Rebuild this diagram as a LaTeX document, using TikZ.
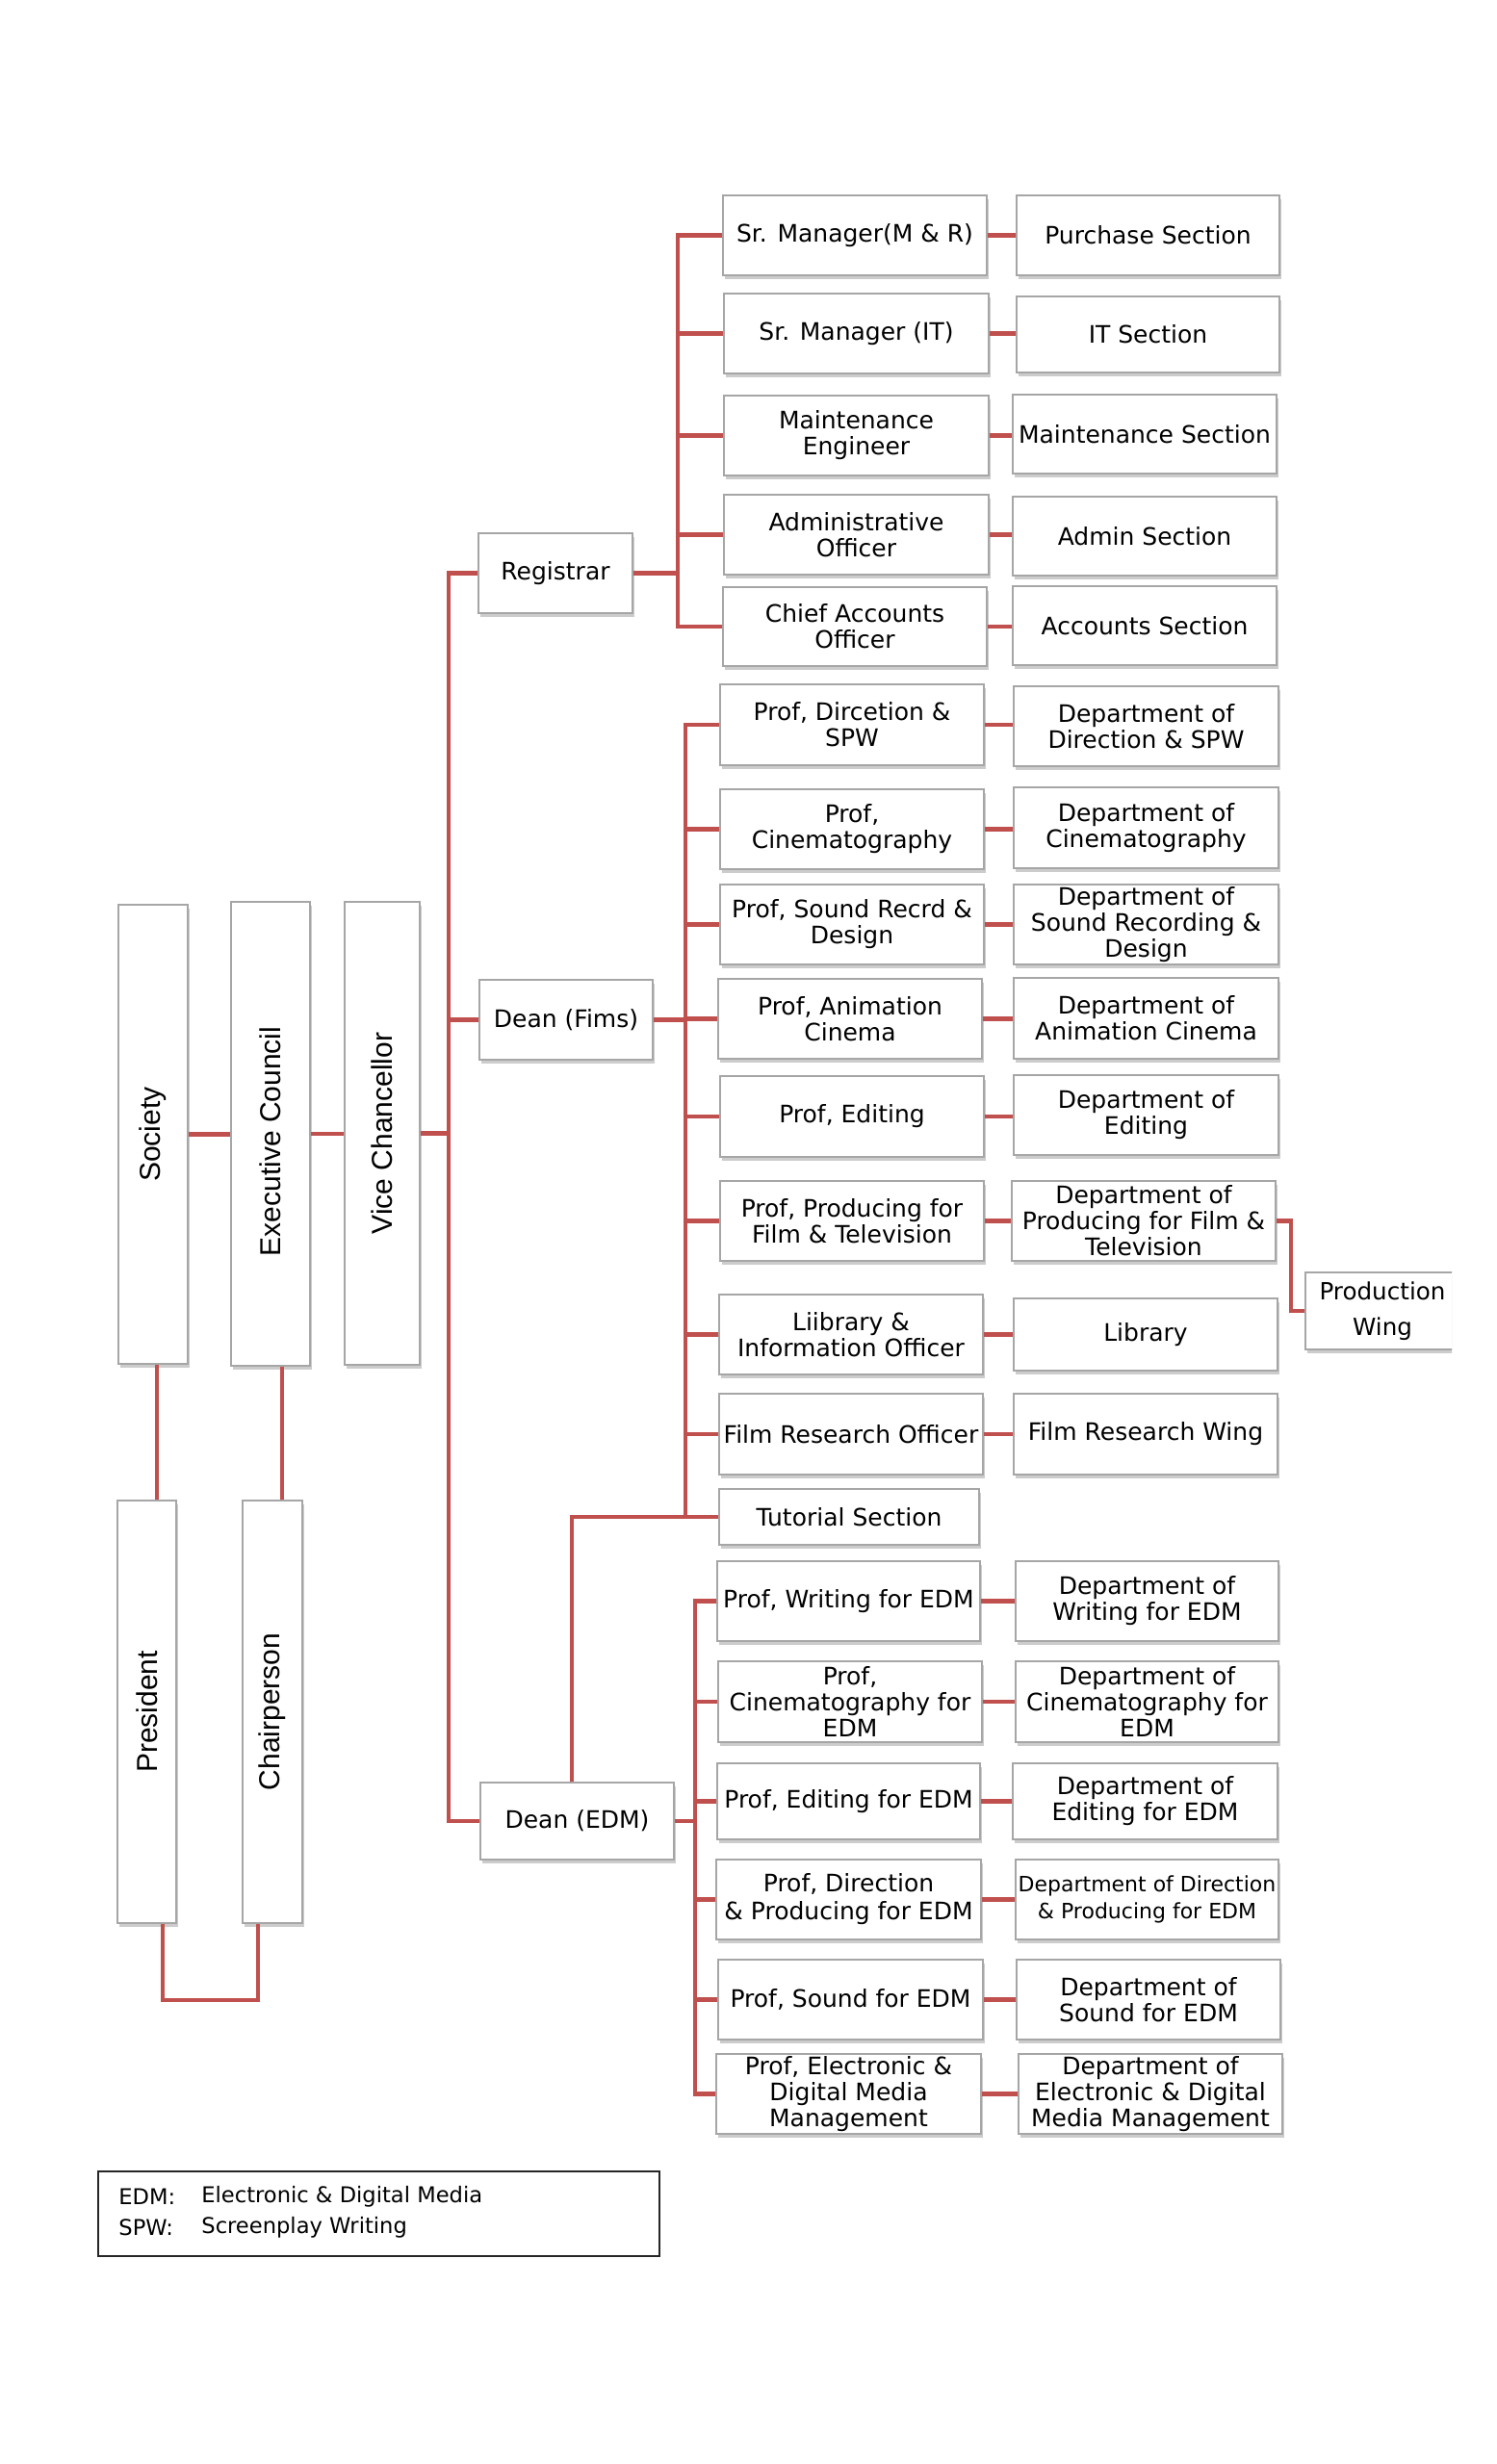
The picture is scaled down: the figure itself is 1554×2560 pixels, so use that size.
\documentclass[tikz,border=0pt]{standalone}
\usepackage{fontspec}
\setmainfont{DejaVu Sans}
\newfontfamily\arialf{Liberation Sans}
\usetikzlibrary{shadows}
\definecolor{linkred}{HTML}{C0504D}
\definecolor{boxgray}{HTML}{A6A6A6}
\tikzset{
  box/.style={draw=boxgray, line width=0.6pt, fill=white, inner sep=0pt, align=center,
    font=\fontsize{12.5}{13.5}\selectfont,
    drop shadow={shadow xshift=1.2pt, shadow yshift=-1.8pt, fill=black!50, opacity=0.4}},
  legbox/.style={draw=black!85, line width=0.8pt, fill=white, inner sep=0pt},
  legtext/.style={anchor=west, inner sep=0pt, font=\fontsize{11.3}{13}\selectfont},
  conn/.style={draw=linkred, line width=2.2pt},
  vlabel/.style={rotate=90, inner sep=0pt, font=\arialf\fontsize{15}{16}\selectfont},
}
\newcommand\bx[7][]{\node[box,#1,minimum width={(#4-#2)*0.5pt},minimum height={(#5-#3)*0.5pt}] (#6) at ({(#2+#4)/2},{(#3+#5)/2}) {#7};}
\begin{document}
\begin{tikzpicture}[x=0.5pt,y=-0.5pt]
\useasboundingbox (0,0) rectangle (1554,2560);
\fill[white] (0,0) rectangle (1554,2560);

% left column
\bx{123}{940}{195}{1417}{soc}{}
\bx{240}{937}{322}{1419}{ec}{}
\bx{358}{937}{436}{1418}{vc}{}
\bx{122}{1559}{183}{1998}{pres}{}
\bx{252}{1559}{314}{1998}{chair}{}
\node[vlabel] (socl) at (soc) {Society};
\node[vlabel] (ecl) at ([yshift=-4pt]ec.center) {Executive Council};
\node[vlabel] (vcl) at (vc) {Vice Chancellor};
\node[vlabel] (presl) at (pres) {President};
\node[vlabel] (chairl) at (chair) {Chairperson};

% deans
\bx{497}{554}{657}{637}{reg}{Registrar}
\bx{498}{1018}{678}{1101}{deanF}{Dean (Fims)}
\bx{499}{1852}{700}{1932}{deanE}{Dean (EDM)}

% registrar branch
\bx{751}{203}{1025}{286}{m1}{Sr. Manager(M \& R)}
\bx{1056}{203}{1329}{286}{n1}{Purchase Section}
\bx{752}{305}{1027}{388}{m2}{Sr. Manager (IT)}
\bx{1056}{308}{1329}{387}{n2}{IT Section}
\bx{752}{411}{1027}{494}{m3}{Maintenance\\Engineer}
\bx{1052}{410}{1326}{492}{n3}{Maintenance Section}
\bx{752}{514}{1027}{597}{m4}{Administrative\\Officer}
\bx{1052}{516}{1326}{598}{n4}{Admin Section}
\bx{751}{610}{1025}{692}{m5}{Chief Accounts\\Officer}
\bx{1052}{609}{1326}{691}{n5}{Accounts Section}

% fims branch
\bx{748}{711}{1022}{795}{f1}{Prof, Dircetion \&\\SPW}
\bx{1053}{713}{1328}{796}{g1}{Department of\\Direction \& SPW}
\bx{748}{820}{1022}{903}{f2}{Prof,\\Cinematography}
\bx{1053}{818}{1328}{902}{g2}{Department of\\Cinematography}
\bx{748}{919}{1022}{1002}{f3}{Prof, Sound Recrd \&\\Design}
\bx{1053}{919}{1328}{1002}{g3}{Department of\\Sound Recording \&\\Design}
\bx{746}{1017}{1020}{1100}{f4}{Prof, Animation\\Cinema}
\bx{1053}{1016}{1328}{1100}{g4}{Department of\\Animation Cinema}
\bx{748}{1118}{1022}{1202}{f5}{Prof, Editing}
\bx{1053}{1117}{1328}{1200}{g5}{Department of\\Editing}
\bx{748}{1227}{1022}{1310}{f6}{Prof, Producing for\\Film \& Television}
\bx{1051}{1227}{1325}{1310}{g6}{Department of\\Producing for Film \&\\Television}
\bx{747}{1345}{1021}{1428}{f7}{Liibrary \&\\Information Officer}
\bx{1053}{1349}{1327}{1424}{g7}{Library}
\bx{747}{1448}{1021}{1532}{f8}{Film Research Officer}
\bx{1053}{1448}{1327}{1532}{g8}{Film Research Wing}
\bx{747}{1547}{1017}{1605}{tut}{Tutorial Section}
\begin{scope}
\clip (1300,1290) rectangle (1508,1440);
\bx[font=\fontsize{12.3}{18.5}\selectfont]{1356}{1322}{1516}{1402}{pw}{Production\\Wing}
\end{scope}

% EDM branch
\bx{745}{1622}{1018}{1705}{e1}{Prof, Writing for EDM}
\bx{1055}{1622}{1328}{1705}{h1}{Department of\\Writing for EDM}
\bx{746}{1726}{1020}{1810}{e2}{Prof,\\Cinematography for\\EDM}
\bx{1055}{1726}{1328}{1810}{h2}{Department of\\Cinematography for\\EDM}
\bx{745}{1832}{1018}{1911}{e3}{Prof, Editing for EDM}
\bx{1052}{1832}{1327}{1911}{h3}{Department of\\Editing for EDM}
\bx[font=\fontsize{12.5}{14.5}\selectfont]{744}{1932}{1019}{2015}{e4}{Prof, Direction\\\& Producing for EDM}
\bx[font=\fontsize{11}{14}\selectfont]{1055}{1932}{1328}{2015}{h4}{Department of Direction\\\& Producing for EDM}
\bx{746}{2036}{1021}{2119}{e5}{Prof, Sound for EDM}
\bx{1056}{2036}{1330}{2119}{h5}{Department of\\Sound for EDM}
\bx{744}{2134}{1019}{2217}{e6}{Prof, Electronic \&\\Digital Media\\Management}
\bx{1058}{2134}{1332}{2217}{h6}{Department of\\Electronic \& Digital\\Media Management}

% legend
\node[legbox, minimum width=291.5pt, minimum height=44pt] (leg) at (393.5,2300) {};
\node[legtext] (l1a) at (123,2282) {EDM:};
\node[legtext] (l1b) at (209,2282) {Electronic \& Digital Media};
\node[legtext] (l2a) at (123,2314) {SPW:};
\node[legtext] (l2b) at (209,2314) {Screenplay Writing};

% coordinates for trunks
\coordinate (mt) at (466,0);
\coordinate (rt) at (704,0);
\coordinate (ft) at (712,0);
\coordinate (et) at (722,0);
\coordinate (pwx) at (1341,0);
\coordinate (ex) at (594,0);
\coordinate (sx) at (163,0);
\coordinate (cx) at (293,0);
\coordinate (bl) at (169,2078);
\coordinate (br) at (268,2078);

% left connectors
\draw[conn] (soc.east) -- (soc.east -| ec.west);
\draw[conn] (ec.east) -- (ec.east -| vc.west);
\draw[conn] (vc.east) -- (mt |- vc.east);
\draw[conn] (sx |- soc.south) -- (sx |- pres.north);
\draw[conn] (cx |- ec.south) -- (cx |- chair.north);
\draw[conn] (bl |- pres.south) -- (bl) -- (br) -- (br |- chair.south);

% main trunk
\draw[conn] (reg.west) -| (mt |- deanE.west) -- (deanE.west);
\draw[conn] (mt |- deanF.west) -- (deanF.west);

% registrar
\draw[conn] (m1.west) -| (rt |- m5.west) -- (m5.west);
\foreach \n in {m2,m3,m4} \draw[conn] (rt |- \n.west) -- (\n.west);
\draw[conn] (reg.east) -- (rt |- reg.east);
\foreach \a/\b in {m1/n1,m2/n2,m3/n3,m4/n4,m5/n5} \draw[conn] (\a.east) -- (\a.east -| \b.west);

% fims
\draw[conn] (f1.west) -| (ft |- tut.west) -- (tut.west);
\foreach \n in {f2,f3,f4,f5,f6,f7,f8} \draw[conn] (ft |- \n.west) -- (\n.west);
\draw[conn] (deanF.east) -- (ft |- deanF.east);
\foreach \a/\b in {f1/g1,f2/g2,f3/g3,f4/g4,f5/g5,f6/g6,f7/g7,f8/g8} \draw[conn] (\a.east) -- (\a.east -| \b.west);
\draw[conn] (g6.east) -| (pwx |- pw.west) -- (pw.west);
\draw[conn] (ex |- deanE.north) |- (ft |- tut.west);

% EDM
\draw[conn] (e1.west) -| (et |- e6.west) -- (e6.west);
\foreach \n in {e2,e3,e4,e5} \draw[conn] (et |- \n.west) -- (\n.west);
\draw[conn] (deanE.east) -- (et |- deanE.east);
\foreach \a/\b in {e1/h1,e2/h2,e3/h3,e4/h4,e5/h5,e6/h6} \draw[conn] (\a.east) -- (\a.east -| \b.west);
\end{tikzpicture}
\end{document}
